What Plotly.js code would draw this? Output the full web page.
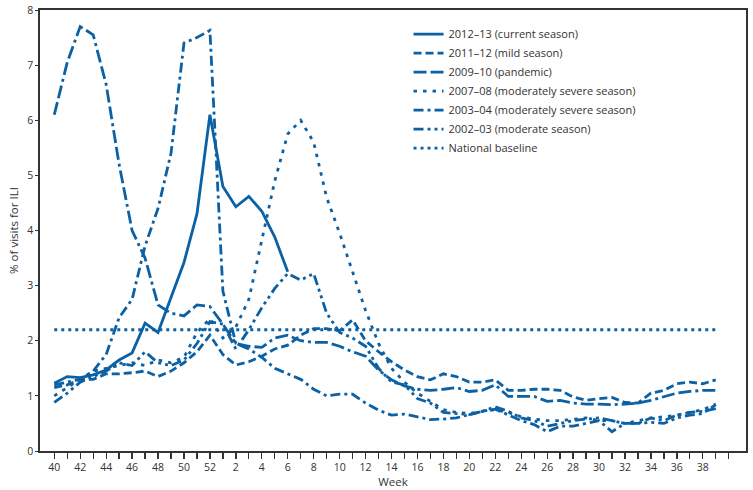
<!DOCTYPE html>
<html>
<head>
<meta charset="utf-8">
<script src="https://cdn.plot.ly/plotly-3.0.1.min.js"></script>
<style>html,body{margin:0;padding:0;background:#fff;}#chart{width:753px;height:490px;}</style>
</head>
<body>
<div id="chart"></div>
<script>
// Surveillance weeks (season runs week 40 through week 39)
const weeks = [40,41,42,43,44,45,46,47,48,49,50,51,52,1,2,3,4,5,6,7,8,9,10,11,12,13,14,15,16,17,18,19,20,21,22,23,24,25,26,27,28,29,30,31,32,33,34,35,36,37,38,39];

const s2012_13 = [1.23,1.35,1.33,1.38,1.47,1.65,1.78,2.32,2.15,2.8,3.42,4.3,6.1,4.8,4.43,4.62,4.35,3.88,3.25];

const s2011_12 = [1.15,1.2,1.3,1.3,1.4,1.4,1.42,1.45,1.35,1.45,1.6,1.8,2.1,1.75,1.56,1.62,1.72,1.85,1.92,2.1,2.22,2.22,2.18,2.38,2.0,1.8,1.62,1.47,1.35,1.29,1.4,1.35,1.25,1.25,1.29,1.1,1.1,1.12,1.12,1.1,0.98,0.92,0.95,0.97,0.88,0.87,1.05,1.1,1.22,1.25,1.22,1.29];

const s2009_10 = [6.1,7.05,7.7,7.55,6.65,5.2,4.0,3.5,2.65,2.5,2.45,2.65,2.62,2.3,1.95,1.9,1.88,2.05,2.1,2.0,1.97,1.97,1.9,1.8,1.72,1.47,1.29,1.18,1.12,1.1,1.12,1.15,1.08,1.1,1.2,0.99,0.99,0.99,0.9,0.92,0.87,0.85,0.85,0.84,0.85,0.87,0.92,0.98,1.05,1.08,1.1,1.1];

const s2007_08 = [1.0,1.15,1.3,1.45,1.5,1.55,1.6,1.55,1.65,1.6,1.7,2.15,2.4,2.05,2.25,2.75,3.8,4.9,5.75,6.0,5.6,4.6,3.95,3.25,2.55,1.95,1.5,1.25,1.05,0.9,0.75,0.7,0.68,0.72,0.75,0.7,0.62,0.58,0.55,0.55,0.58,0.6,0.55,0.55,0.5,0.55,0.6,0.62,0.65,0.7,0.75,0.85];

const s2003_04 = [1.2,1.25,1.3,1.45,1.75,2.42,2.75,3.72,4.4,5.4,7.4,7.5,7.63,2.9,1.95,1.85,1.7,1.5,1.4,1.3,1.12,1.0,1.03,1.03,0.87,0.74,0.65,0.67,0.62,0.57,0.58,0.6,0.66,0.72,0.76,0.65,0.55,0.48,0.35,0.45,0.45,0.5,0.55,0.35,0.5,0.5,0.6,0.55,0.65,0.7,0.72,0.77];

const s2002_03 = [0.88,1.05,1.25,1.35,1.45,1.6,1.55,1.8,1.6,1.55,1.65,1.95,2.35,2.3,1.85,2.2,2.6,2.95,3.22,3.1,3.22,2.5,2.15,2.05,1.9,1.5,1.25,1.2,0.95,0.87,0.7,0.68,0.66,0.72,0.8,0.72,0.6,0.55,0.45,0.5,0.55,0.58,0.6,0.55,0.5,0.5,0.52,0.5,0.6,0.65,0.68,0.84];

const baselineValue = 2.2;

const seriesNames = ["2012\u201313 (current season)","2011\u201312 (mild season)","2009\u201310 (pandemic)","2007\u201308 (moderately severe season)","2003\u201304 (moderately severe season)","2002\u201303 (moderate season)","National baseline"];

// ---- build ----
const idx = weeks.map((w,i)=>i);
const blue = "#0b61a4";
const dashes = ["solid","8px,4px","13px,4px,13px,4px,3px,4px","3.5px,6px","10px,4px,3px,4px","10px,4px,3px,4px,3px,4px","3px,4px"];
const data = [s2012_13,s2011_12,s2009_10,s2007_08,s2003_04,s2002_03,weeks.map(()=>baselineValue)];

const traces = data.map((ys,k)=>({
  x: idx.slice(0, ys.length),
  y: ys,
  type: "scatter",
  mode: "lines",
  name: seriesNames[k],
  line: {color: blue, width: 2.8, dash: dashes[k]},
  hoverinfo: "skip"
}));

const tickvals = [], ticktext = [];
for (let i = 0; i <= 52; i++) {
  tickvals.push(i);
  ticktext.push(i % 2 === 0 && i < weeks.length ? String(weeks[i]) : "");
}

const font = "Open Sans, Noto Sans, sans-serif";
const layout = {
  width: 753, height: 490,
  margin: {l: 40, r: 7, t: 10, b: 39},
  paper_bgcolor: "#fff", plot_bgcolor: "#fff",
  font: {family: font, size: 10, color: "#333"},
  showlegend: true,
  legend: {x: 0.522, y: 0.978, xanchor: "left", yanchor: "top", bgcolor: "rgba(0,0,0,0)", font: {family: font, size: 11, color: "#333"}},
  xaxis: {
    range: [-1.1, 53.33], showgrid: false, zeroline: false,
    tickmode: "array", tickvals: tickvals, ticktext: ticktext,
    ticks: "outside", ticklen: 6, tickwidth: 1.3, tickcolor: "#333",
    showline: true, linecolor: "#333", linewidth: 1.6, mirror: true,
    tickfont: {family: font, size: 10.5, color: "#333"},
    title: {text: "Week", font: {family: font, size: 11.5, color: "#333"}, standoff: 2}
  },
  yaxis: {
    range: [0, 8], showgrid: false, zeroline: false,
    tickmode: "array", tickvals: [0,1,2,3,4,5,6,7,8],
    ticks: "outside", ticklen: 3, tickwidth: 1, tickcolor: "#333",
    showline: true, linecolor: "#333", linewidth: 1.6, mirror: true,
    tickfont: {family: font, size: 10.5, color: "#333"},
    title: {text: "% of visits for ILI", font: {family: font, size: 11.5, color: "#333"}, standoff: 6}
  }
};

Plotly.newPlot("chart", traces, layout, {displayModeBar: false, staticPlot: true});
</script>
</body>
</html>
